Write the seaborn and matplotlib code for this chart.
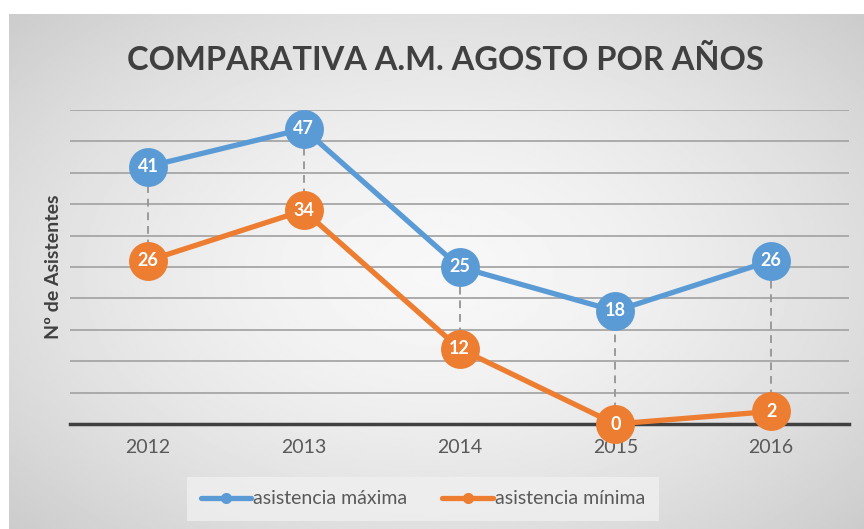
import numpy as np
import pandas as pd
import matplotlib
matplotlib.use("Agg")
import matplotlib.pyplot as plt
import seaborn as sns
from matplotlib.lines import Line2D

# data
years = [2012, 2013, 2014, 2015, 2016]
asistencia_maxima = [41, 47, 25, 18, 26]
asistencia_minima = [26, 34, 12, 0, 2]
series_names = ["asistencia máxima", "asistencia mínima"]

title = "COMPARATIVA A.M. AGOSTO POR AÑOS"
ylabel = "Nº de Asistentes"

blue = "#5B9BD5"
orange = "#ED7D31"

df = pd.DataFrame({
    "year": years * 2,
    "value": asistencia_maxima + asistencia_minima,
    "serie": [series_names[0]] * len(years) + [series_names[1]] * len(years),
})

sns.set_theme(style="white")
plt.rcParams["font.family"] = ["Lato", "DejaVu Sans"]

fig = plt.figure(figsize=(8.64, 5.29), dpi=100)

# gray radial gradient background for the chart area
bg = fig.add_axes([9 / 864, 0, 1 - 9 / 864, 1 - 14 / 529])
yy, xx = np.mgrid[-1:1:300j, -1:1:500j]
r = np.sqrt((xx * 0.95) ** 2 + (yy * 0.9) ** 2)
shade = 0.97 - 0.18 * np.clip(r / 1.35, 0, 1) ** 1.6
bg.imshow(shade, cmap="gray", vmin=0, vmax=1, aspect="auto", extent=[0, 1, 0, 1])
bg.set_axis_off()

ax = fig.add_axes([70 / 864, 1 - 424 / 529, (849 - 70) / 864, (424 - 110) / 529])
ax.set_facecolor("none")

# dashed high-low lines
ax.vlines(years, asistencia_minima, asistencia_maxima, colors="#9a9a9a",
          linestyles=(0, (4, 3)), linewidth=1.4, zorder=1)

sns.lineplot(data=df, x="year", y="value", hue="serie",
             palette=[blue, orange], marker="o", markersize=28,
             markeredgewidth=0, linewidth=3.8, ax=ax, legend=False,
             zorder=3, clip_on=False)

for x, v in zip(years, asistencia_maxima):
    ax.text(x, v, str(v), ha="center", va="center", color="white",
            fontsize=13, fontweight="bold", zorder=5)
for x, v in zip(years, asistencia_minima):
    ax.text(x, v, str(v), ha="center", va="center", color="white",
            fontsize=13, fontweight="bold", zorder=5)

ax.set_xlim(years[0] - 0.5, years[-1] + 0.5)
ax.set_ylim(0, 50)
ax.set_yticks(np.arange(0, 51, 5))
ax.set_yticklabels([])
ax.yaxis.grid(True, color="#a6a6a6", linewidth=1.3)
ax.set_axisbelow(True)
ax.tick_params(axis="y", length=0)
ax.set_xticks(years)
ax.set_xticklabels([str(y) for y in years], fontsize=14, color="#595959")
ax.tick_params(axis="x", length=0, pad=11)
ax.set_xlabel("")
ax.set_ylabel(ylabel, fontsize=14, fontweight="bold", color="#404040", labelpad=2)
for s in ["top", "right", "left"]:
    ax.spines[s].set_visible(False)
ax.spines["bottom"].set_color("#404040")
ax.spines["bottom"].set_linewidth(2.5)
ax.spines["bottom"].set_zorder(2)

fig.text(445 / 864, 1 - 60 / 529, title, ha="center", va="center",
         fontsize=23.5, fontweight="bold", color="#404040")

handles = [
    Line2D([], [], color=blue, linewidth=3.8, marker="o", markersize=7),
    Line2D([], [], color=orange, linewidth=3.8, marker="o", markersize=7),
]
leg = fig.legend(handles, series_names, loc="center", bbox_to_anchor=(423 / 864, 1 - 499 / 529),
                 ncol=2, frameon=True, fontsize=14, handlelength=2.6, handletextpad=0.1,
                 columnspacing=1.8, borderpad=0.7, fancybox=False)
leg.get_frame().set_facecolor("#f0f0f0")
leg.get_frame().set_edgecolor("none")
for t in leg.get_texts():
    t.set_color("#595959")

fig.savefig("out.png", dpi=100, facecolor="white")
